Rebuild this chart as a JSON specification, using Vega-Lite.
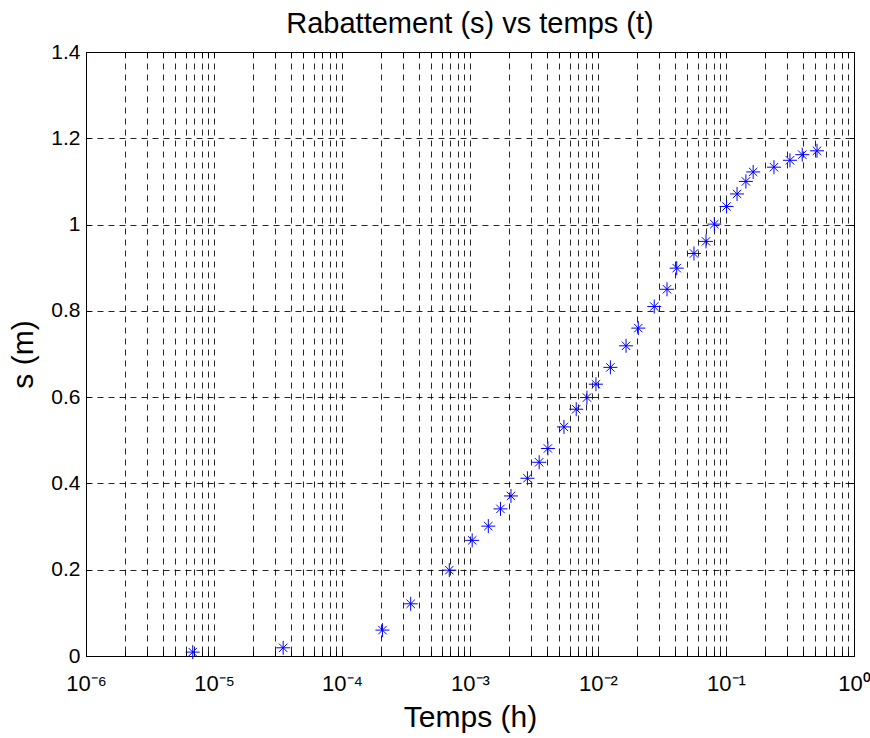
{
  "$schema": "https://vega.github.io/schema/vega-lite/v6.json",
  "width": 768,
  "height": 604,
  "autosize": {"type": "none"},
  "padding": {"left": 86, "top": 52, "right": 16, "bottom": 82},
  "background": "white",
  "title": {
    "text": "Rabattement (s) vs temps (t)",
    "font": "Liberation Sans",
    "fontSize": 29,
    "fontWeight": "normal",
    "color": "black",
    "anchor": "middle",
    "frame": "group",
    "offset": 2
  },
  "config": {
    "view": {"stroke": "black", "strokeWidth": 1},
    "axis": {
      "labelFont": "Liberation Sans",
      "titleFont": "Liberation Sans",
      "labelColor": "black",
      "titleColor": "black",
      "tickColor": "black",
      "domainColor": "black",
      "titleFontWeight": "normal"
    }
  },
  "data": {
    "values": [
      {"t": 6.82e-6, "s": 0.009},
      {"t": 3.47e-5, "s": 0.019},
      {"t": 2.07e-4, "s": 0.060},
      {"t": 3.44e-4, "s": 0.121},
      {"t": 6.89e-4, "s": 0.199},
      {"t": 1.04e-3, "s": 0.268},
      {"t": 1.39e-3, "s": 0.301},
      {"t": 1.73e-3, "s": 0.341},
      {"t": 2.09e-3, "s": 0.371},
      {"t": 2.81e-3, "s": 0.412},
      {"t": 3.47e-3, "s": 0.449},
      {"t": 4.06e-3, "s": 0.481},
      {"t": 5.42e-3, "s": 0.531},
      {"t": 6.76e-3, "s": 0.572},
      {"t": 8.2e-3, "s": 0.599},
      {"t": 9.64e-3, "s": 0.630},
      {"t": 1.25e-2, "s": 0.669},
      {"t": 1.656e-2, "s": 0.719},
      {"t": 2.065e-2, "s": 0.760},
      {"t": 2.75e-2, "s": 0.810},
      {"t": 3.46e-2, "s": 0.850},
      {"t": 4.12e-2, "s": 0.899},
      {"t": 5.62e-2, "s": 0.933},
      {"t": 6.98e-2, "s": 0.961},
      {"t": 8.11e-2, "s": 1.001},
      {"t": 0.101, "s": 1.042},
      {"t": 0.122, "s": 1.071},
      {"t": 0.143, "s": 1.100},
      {"t": 0.163, "s": 1.122},
      {"t": 0.237, "s": 1.133},
      {"t": 0.316, "s": 1.149},
      {"t": 0.394, "s": 1.162},
      {"t": 0.514, "s": 1.171}
    ]
  },
  "layer": [
    {
      "mark": {
        "type": "point",
        "shape": "M-1,0L1,0M0,-1L0,1M-0.6,-0.6L0.6,0.6M-0.6,0.6L0.6,-0.6",
        "filled": false,
        "color": "#0000ff",
        "strokeWidth": 1,
        "size": 196,
        "opacity": 1
      },
      "encoding": {
        "x": {
          "field": "t",
          "type": "quantitative",
          "scale": {"type": "log", "domain": [1e-6, 1], "nice": false},
          "axis": {
            "orient": "bottom",
            "values": [1e-6, 2e-6, 3e-6, 4e-6, 5e-6, 6e-6, 7e-6, 8e-6, 9e-6,
                       1e-5, 2e-5, 3e-5, 4e-5, 5e-5, 6e-5, 7e-5, 8e-5, 9e-5,
                       1e-4, 2e-4, 3e-4, 4e-4, 5e-4, 6e-4, 7e-4, 8e-4, 9e-4,
                       1e-3, 2e-3, 3e-3, 4e-3, 5e-3, 6e-3, 7e-3, 8e-3, 9e-3,
                       1e-2, 2e-2, 3e-2, 4e-2, 5e-2, 6e-2, 7e-2, 8e-2, 9e-2,
                       0.1, 0.2, 0.3, 0.4, 0.5, 0.6, 0.7, 0.8, 0.9, 1],
            "labelExpr": "abs(log(datum.value)/LN10 - round(log(datum.value)/LN10)) < 0.001 ? (round(log(datum.value)/LN10) == 0 ? '10⁰' : '10⁻' + ['','¹','²','³','⁴','⁵','⁶'][-round(log(datum.value)/LN10)]) : ''",
            "labelFontSize": 22,
            "labelPadding": 22,
            "labelOverlap": false,
            "labelFlush": false,
            "labelBound": false,
            "grid": true,
            "gridColor": "black",
            "gridDash": [6, 5],
            "gridOpacity": 0.85,
            "gridWidth": 1,
            "tickSize": -5,
            "title": "Temps (h)",
            "titleFontSize": 30,
            "titlePadding": 8
          }
        },
        "y": {
          "field": "s",
          "type": "quantitative",
          "scale": {"domain": [0, 1.4], "nice": false, "zero": false},
          "axis": {
            "orient": "left",
            "values": [0, 0.2, 0.4, 0.6, 0.8, 1, 1.2, 1.4],
            "format": "~g",
            "labelFontSize": 21,
            "labelPadding": 11,
            "grid": true,
            "gridColor": "black",
            "gridDash": [6, 5],
            "gridOpacity": 0.85,
            "gridWidth": 1,
            "tickSize": -5,
            "title": "s (m)",
            "titleFontSize": 30,
            "titlePadding": 12
          }
        }
      }
    },
    {
      "mark": {"type": "point", "opacity": 0},
      "encoding": {
        "x": {
          "field": "t",
          "type": "quantitative",
          "scale": {"type": "log", "domain": [1e-6, 1], "nice": false},
          "axis": {
            "orient": "top",
            "values": [1e-6, 2e-6, 3e-6, 4e-6, 5e-6, 6e-6, 7e-6, 8e-6, 9e-6,
                       1e-5, 2e-5, 3e-5, 4e-5, 5e-5, 6e-5, 7e-5, 8e-5, 9e-5,
                       1e-4, 2e-4, 3e-4, 4e-4, 5e-4, 6e-4, 7e-4, 8e-4, 9e-4,
                       1e-3, 2e-3, 3e-3, 4e-3, 5e-3, 6e-3, 7e-3, 8e-3, 9e-3,
                       1e-2, 2e-2, 3e-2, 4e-2, 5e-2, 6e-2, 7e-2, 8e-2, 9e-2,
                       0.1, 0.2, 0.3, 0.4, 0.5, 0.6, 0.7, 0.8, 0.9, 1],
            "labels": false,
            "grid": false,
            "domain": false,
            "tickSize": -5,
            "title": null
          }
        },
        "y": {
          "field": "s",
          "type": "quantitative",
          "scale": {"domain": [0, 1.4], "nice": false, "zero": false},
          "axis": {
            "orient": "right",
            "values": [0, 0.2, 0.4, 0.6, 0.8, 1, 1.2, 1.4],
            "labels": false,
            "grid": false,
            "domain": false,
            "tickSize": -5,
            "title": null
          }
        }
      }
    }
  ],
  "resolve": {"axis": {"x": "independent", "y": "independent"}}
}
